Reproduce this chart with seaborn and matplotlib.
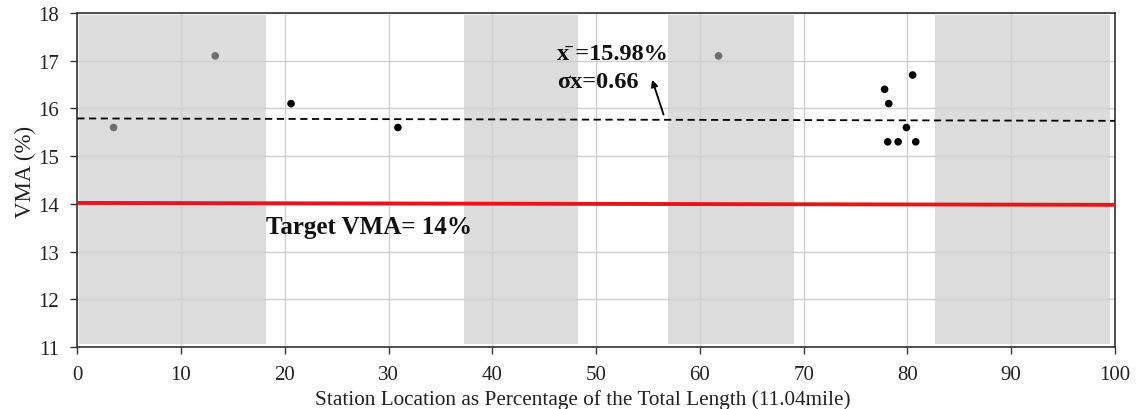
import numpy as np
import pandas as pd
import matplotlib
matplotlib.use("Agg")
import matplotlib.pyplot as plt
import seaborn as sns

# Station location (% of total length) and measured VMA (%)
station_pct = [3.5, 13.3, 20.6, 30.9, 61.8, 77.8, 78.2, 80.5, 79.9, 78.1, 79.1, 80.8]
vma = [15.6, 17.1, 16.1, 15.6, 17.1, 16.4, 16.1, 16.7, 15.6, 15.3, 15.3, 15.3]
group = ["grey", "grey", "black", "black", "grey",
         "black", "black", "black", "black", "black", "black", "black"]

# Shaded sections along the route (start %, end %)
section_start = [0.2, 37.3, 56.9, 82.7]
section_end = [18.2, 48.3, 69.1, 99.5]

# Trend of the mean and target level
trend_x = [0, 100]
trend_y = [15.79, 15.74]
target_vma = 14.0
mean_label = "x\u0304 =15.98%"
sd_label = "\u03c3x=0.66"
target_label = "Target VMA= 14%"

df = pd.DataFrame({"station": station_pct, "vma": vma, "group": group})

sns.set_theme(style="white")
plt.rcParams["font.family"] = ["Liberation Serif", "DejaVu Serif"]

fig = plt.figure(figsize=(11.36, 4.10), dpi=100)
ax = fig.add_axes([0.068, 0.151, 0.9135, 0.815])

for s, e in zip(section_start, section_end):
    ax.axvspan(s, e, ymin=0.008, ymax=0.994, color="#dcdcdc", lw=0, zorder=0)

ax.set_xlim(0, 100)
ax.set_ylim(11, 18)
ax.set_xticks(np.arange(0, 101, 10))
ax.set_yticks(np.arange(11, 19, 1))
ax.grid(True, color="#cfcfcf", lw=1.0, zorder=1)
ax.set_axisbelow(True)

sns.scatterplot(data=df, x="station", y="vma", hue="group",
                palette={"grey": "#6e6e6e", "black": "#000000"},
                s=30, edgecolor="none", legend=False, ax=ax, zorder=4)

ax.plot(trend_x, trend_y, ls=(0, (4, 2.5)), color="black", lw=1.3, zorder=3)
ax.plot([0, 100], [target_vma + 0.02, target_vma - 0.02], color="#e8141c", lw=2.8, zorder=3)

ax.text(18.2, target_vma - 0.47, target_label, fontsize=18, fontweight="bold",
        ha="left", va="center", color="#111111")
ax.text(46.2, 17.15, mean_label, fontsize=17.5, fontweight="bold",
        ha="left", va="center", color="#111111")
ax.text(46.2, 16.56, sd_label, fontsize=17.5, fontweight="bold",
        ha="left", va="center", color="#111111")
ax.annotate("", xy=(55.4, 16.6), xytext=(56.5, 15.87),
            arrowprops=dict(arrowstyle="-|>", color="black", lw=1.3,
                            mutation_scale=10, shrinkA=0, shrinkB=0), zorder=5)

for side in ["left", "bottom", "top", "right"]:
    ax.spines[side].set_visible(True)
    ax.spines[side].set_color("#333333")
    ax.spines[side].set_linewidth(1.2)

ax.tick_params(axis="both", which="major", direction="out", length=5,
               width=1, color="#333333", labelsize=15, labelcolor="#222222",
               bottom=True, left=True)
ax.tick_params(axis="y", pad=8)
ax.tick_params(axis="x", pad=8)
ax.set_xlabel("Station Location as Percentage of the Total Length (11.04mile)",
              fontsize=15.3, color="#222222")
ax.set_ylabel("VMA (%)", fontsize=16.5, color="#222222")
ax.xaxis.set_label_coords(0.487, -0.127)
ax.yaxis.set_label_coords(-0.040, 0.527)

fig.savefig("out.png", dpi=100)
